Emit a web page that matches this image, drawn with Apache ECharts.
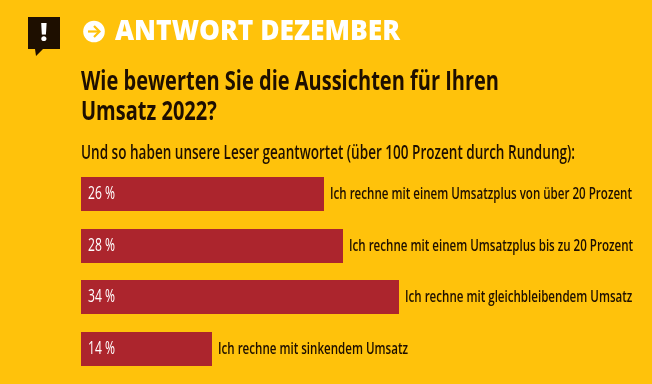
<!DOCTYPE html>
<html><head><meta charset="utf-8">
<style>html,body{margin:0;padding:0;background:#FFC20B}#c{width:652px;height:384px}</style>
<script src="https://cdn.jsdelivr.net/npm/echarts@6/dist/echarts.min.js"></script>
</head><body><div id="c"></div>
<script>
const categories = ["Ich rechne mit einem Umsatzplus von über 20 Prozent","Ich rechne mit einem Umsatzplus bis zu 20 Prozent","Ich rechne mit gleichbleibendem Umsatz","Ich rechne mit sinkendem Umsatz"];
const values = [26,28,34,14];
const heading = "ANTWORT DEZEMBER";
const questionLines = ["Wie bewerten Sie die Aussichten für Ihren","Umsatz 2022?"];
const subtitle = "Und so haben unsere Leser geantwortet (über 100 Prozent durch Rundung):";
const DARK = '#1E0F00', RED = '#AC252D', BG = '#FFC20B';
const ctx = document.createElement('canvas').getContext('2d');
function squeeze(text, font, px){ ctx.font = font; return px / ctx.measureText(text).width; }
const F_LABEL = '600 16px "Open Sans"', F_VALUE = '500 17.5px "Open Sans"', F_Q = '700 26px "Open Sans"', F_SUB = '600 19.5px "Open Sans"', F_H = '800 28.5px "Open Sans"';
const sxLabel = squeeze(categories[0], F_LABEL, 302);
const sxValue = squeeze('26 %', F_VALUE, 27);
const sxQ = squeeze(questionLines[0], F_Q, 418);
const sxSub = squeeze(subtitle, F_SUB, 494);
const sxH = squeeze(heading, F_H, 285);
const chart = echarts.init(document.getElementById('c'),null,{renderer:'canvas'});
chart.setOption({
  backgroundColor:BG,
  animation:false,
  grid:{left:81,top:168.5,width:561,height:206},
  xAxis:{type:'value',min:0,max:60,show:false},
  yAxis:{type:'category',inverse:true,data:categories,show:false},
  series:[{
    type:'custom',silent:true,
    data:values.map((v,i)=>[v,i]),
    encode:{x:0,y:1},
    renderItem(params,api){
      const v=api.value(0), i=api.value(1);
      const [x1,yc]=api.coord([v,i]);
      const x0=api.coord([0,i])[0];
      const top=Math.round(yc-17), h=34;
      return {type:'group',children:[
        {type:'rect',shape:{x:x0,y:top,width:Math.round(x1-x0),height:h},style:{fill:RED}},
        {type:'text',x:x0+7,y:top+17,scaleX:sxValue,style:{text:v+' %',fill:'#fff',font:F_VALUE,verticalAlign:'middle'}},
        {type:'text',x:Math.round(x1)+6,y:top+17,scaleX:sxLabel,style:{text:categories[i],fill:DARK,font:F_LABEL,verticalAlign:'middle'}}
      ]};
    }
  }],
  graphic:[
    {type:'polygon',shape:{points:[[28,17],[60,17],[60,49],[43,49],[36,56],[35,49],[28,49]]},style:{fill:DARK}},
    {type:'text',x:44,y:34,style:{text:'!',fill:'#fff',font:'800 25px "Open Sans"',align:'center',verticalAlign:'middle'}},
    {type:'circle',shape:{cx:94,cy:31.5,r:10.8},style:{fill:'#fff'}},
    {type:'polyline',shape:{points:[[88,31.5],[99,31.5]]},style:{stroke:BG,lineWidth:2.2,fill:null}},
    {type:'polyline',shape:{points:[[94,26],[99.5,31.5],[94,37]]},style:{stroke:BG,lineWidth:2.2,fill:null}},
    {type:'text',x:115,y:31.5,scaleX:sxH,style:{text:heading,fill:'#fff',font:F_H,verticalAlign:'middle'}},
    {type:'text',x:81,y:83,scaleX:sxQ,style:{text:questionLines[0],fill:DARK,font:F_Q,verticalAlign:'middle'}},
    {type:'text',x:81,y:112.5,scaleX:sxQ,style:{text:questionLines[1],fill:DARK,font:F_Q,verticalAlign:'middle'}},
    {type:'text',x:81,y:153,scaleX:sxSub,style:{text:subtitle,fill:DARK,font:F_SUB,verticalAlign:'middle'}}
  ]
});
</script></body></html>
